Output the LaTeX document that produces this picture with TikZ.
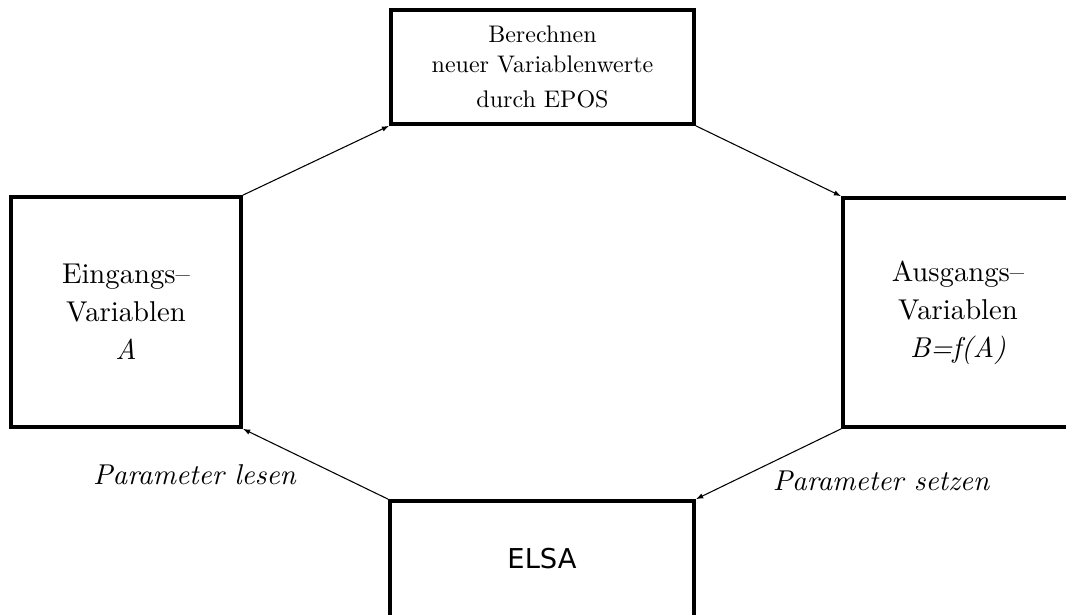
\documentclass[tikz,border=0pt]{standalone}
\usepackage{fontspec}
\setmainfont{lmroman10-regular.otf}[ItalicFont=lmroman10-italic.otf]
\newfontfamily\elsafont{DejaVu Sans}
\usetikzlibrary{arrows.meta}
\tikzset{
  box/.style={draw, line width=2.7pt, align=center, inner sep=0pt},
  bigtext/.style={font=\fontsize{21.5}{28.5}\selectfont},
  smalltext/.style={font=\fontsize{18}{22.5}\selectfont},
  flow/.style={line width=0.8pt, -{Latex[length=5.5pt,width=4pt]}},
  lbl/.style={font=\fontsize{21.5}{24}\selectfont\itshape, anchor=base, inner sep=0pt}
}
\begin{document}
\begin{tikzpicture}[x=0.75pt, y=-0.75pt]
\useasboundingbox (0,0) rectangle (1066,614);
\clip (0,0) rectangle (1066,614);
\node[box, bigtext, minimum width=230*0.75pt, minimum height=230*0.75pt] (L) at (126,312) {Eingangs--\\Variablen\\\textit{A}};
\node[box, smalltext, minimum width=303*0.75pt, minimum height=114*0.75pt] (T) at (542.5,67) {Berechnen\\neuer Variablenwerte\\[3.5pt]durch EPOS};
\node[box, bigtext, minimum width=230*0.75pt, minimum height=229*0.75pt] (R) at (958,312.5) {Ausgangs--\\Variablen\\\textit{B=f(A)}};
\node[box, font=\fontsize{20.5}{24}\selectfont\elsafont, minimum width=304*0.75pt, minimum height=116*0.75pt] (E) at (542,559) {ELSA};
\draw[flow] (L.north east) -- (T.south west);
\draw[flow] (T.south east) -- (R.north west);
\draw[flow] (R.south west) -- (E.north east);
\draw[flow] (E.north west) -- (L.south east);
\node[lbl] (pl) at (194.5,484) {Parameter lesen};
\node[lbl] (ps) at (881,490) {Parameter setzen};
\end{tikzpicture}
\end{document}
